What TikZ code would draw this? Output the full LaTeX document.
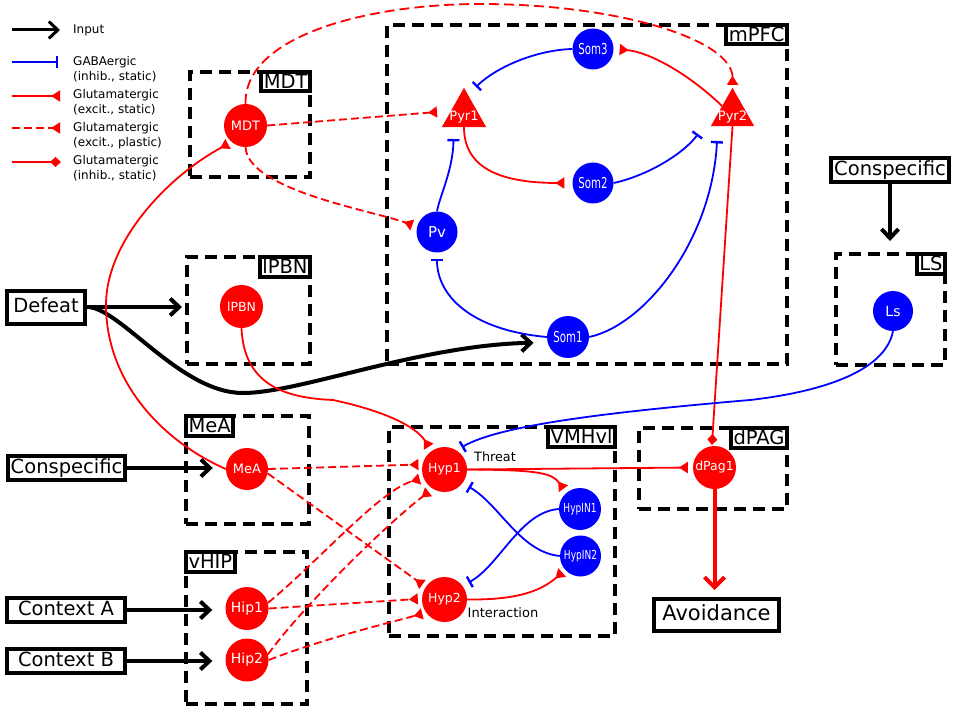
\documentclass[tikz,border=0pt]{standalone}
\usepackage{fontspec}
\setmainfont{DejaVu Sans}
\usepackage{graphicx}
\usetikzlibrary{arrows.meta}
\pgfdeclarelayer{back}\pgfdeclarelayer{mid}\pgfsetlayers{back,mid,main}
\definecolor{nred}{RGB}{255,0,0}
\definecolor{nblue}{RGB}{0,0,255}
\begin{document}
\begin{tikzpicture}[x=1pt,y=-1pt,
 region/.style={draw, line width=4pt, dash pattern=on 12pt off 7pt, inner sep=0pt},
 lbl/.style={draw, line width=4pt, fill=white, font=\fontsize{19.5}{22}\selectfont, inner xsep=2.5pt, inner ysep=2pt, text height=14.5pt, text depth=1pt},
 inbox/.style={draw, line width=4pt, fill=white, font=\fontsize{19.5}{22}\selectfont, inner xsep=3pt, inner ysep=3pt, text height=14.5pt, text depth=3.5pt},
 rn/.style={circle, fill=nred, text=white, inner sep=0pt, minimum size=#1},
 bn/.style={circle, fill=nblue, text=white, inner sep=0pt, minimum size=#1},
 exc/.style={nred, line width=1.8pt, -{Triangle[reversed, length=9pt, width=11pt]}},
 pla/.style={exc, dash pattern=on 8pt off 4pt},
 inh/.style={nblue, line width=1.8pt, -{Bar[width=12pt, line width=2.4pt]}},
 dia/.style={nred, line width=1.8pt, -{Diamond[length=11pt, width=10pt]}},
 inp/.style={black, line width=4pt, -{Straight Barb[length=9pt, width=17pt]}},
 legt/.style={anchor=west, align=left, font=\fontsize{12}{15}\selectfont, inner sep=0pt},
]
\useasboundingbox (0,0) rectangle (957,711);

% ---------------- regions ----------------
\begin{pgfonlayer}{back}
\node[region, minimum width=120pt, minimum height=105pt] (mdtbox) at (250,124.5) {};
\node[region, minimum width=400pt, minimum height=339pt] (mpfcbox) at (587,194.5) {};
\node[region, minimum width=123pt, minimum height=107pt] (lpbnbox) at (248.5,310.5) {};
\node[region, minimum width=123pt, minimum height=108pt] (meabox) at (247.5,470) {};
\node[region, minimum width=121pt, minimum height=152pt] (vhipbox) at (246.5,628) {};
\node[region, minimum width=226pt, minimum height=209pt] (vmhbox) at (502,531.5) {};
\node[region, minimum width=148pt, minimum height=81pt] (dpagbox) at (713,468.5) {};
\node[region, minimum width=109pt, minimum height=111pt] (lsbox) at (890.5,309.5) {};
\node[lbl, anchor=north east] (mdtlbl) at (mdtbox.north east) {MDT};
\node[lbl, anchor=north east] (mpfclbl) at (mpfcbox.north east) {mPFC};
\node[lbl, anchor=north east] (lpbnlbl) at (lpbnbox.north east) {lPBN};
\node[lbl, anchor=north west] (mealbl) at (meabox.north west) {MeA};
\node[lbl, anchor=north west] (vhiplbl) at (vhipbox.north west) {vHIP};
\node[lbl, anchor=north east] (vmhlbl) at (vmhbox.north east) {VMHvl};
\node[lbl, anchor=north east] (dpaglbl) at (dpagbox.north east) {dPAG};
\node[lbl, anchor=north east] (lslbl) at (lsbox.north east) {LS};
\end{pgfonlayer}

% ---------------- input boxes ----------------
\node[inbox, minimum width=78pt, minimum height=33pt] (defeat) at (46,307) {Defeat};
\node[inbox] (conspL) at (66.5,468) {Conspecific};
\node[inbox, minimum width=118pt] (ctxA) at (66,610) {Context A};
\node[inbox, minimum width=118pt] (ctxB) at (66,661) {Context B};
\node[inbox] (conspR) at (890,170) {Conspecific};
\node[inbox, minimum width=125pt, minimum height=32pt, font=\fontsize{21}{24}\selectfont] (avoid) at (716.5,615) {Avoidance};

% ---------------- neurons ----------------
\node[rn=43pt, font=\fontsize{13}{13}\selectfont] (mdt) at (245.5,125.5) {MDT};
\node[rn=43pt, font=\fontsize{12.5}{13}\selectfont] (lpbn) at (241.5,306.5) {lPBN};
\node[rn=42pt, font=\fontsize{13}{13}\selectfont] (mea) at (247,469) {MeA};
\node[rn=43pt, font=\fontsize{14}{14}\selectfont] (hip1) at (247,608.5) {Hip1};
\node[rn=43pt, font=\fontsize{14}{14}\selectfont] (hip2) at (247,660) {Hip2};
\node[rn=45pt, font=\fontsize{12.5}{13}\selectfont] (hyp1) at (444.5,469.5) {Hyp1};
\node[rn=45pt, font=\fontsize{12.5}{13}\selectfont] (hyp2) at (444.5,599.5) {Hyp2};
\node[rn=43pt, font=\fontsize{12.5}{13}\selectfont] (dpag1) at (714.5,467.5) {dPag1};
\node[bn=41pt] (som3) at (593,49) {\fontsize{15}{15}\selectfont\scalebox{0.68}[1]{Som3}};
\node[bn=41pt] (som2) at (593,183) {\fontsize{15}{15}\selectfont\scalebox{0.68}[1]{Som2}};
\node[bn=42pt] (som1) at (568,337) {\fontsize{15}{15}\selectfont\scalebox{0.68}[1]{Som1}};
\node[bn=41pt, font=\fontsize{15}{15}\selectfont] (pv) at (437,232) {Pv};
\node[bn=42pt] (hypin1) at (580,509) {\fontsize{12.4}{13}\selectfont\scalebox{0.73}[1]{HypIN1}};
\node[bn=41pt] (hypin2) at (580.5,556) {\fontsize{12.4}{13}\selectfont\scalebox{0.73}[1]{HypIN2}};
\node[bn=40pt, font=\fontsize{14}{14}\selectfont] (ls) at (893,311) {Ls};
% pyramidal cells
\node[minimum width=44pt, minimum height=39pt, inner sep=0pt] (pyr1) at (464,107.5) {};
\fill[nred] (pyr1.north) -- (pyr1.south east) -- (pyr1.south west) -- cycle;
\node[text=white, font=\fontsize{13}{13}\selectfont] (pyr1t) at (464,117.5) {Pyr1};
\node[minimum width=43pt, minimum height=38pt, inner sep=0pt] (pyr2) at (732.5,107) {};
\fill[nred] (pyr2.north) -- (pyr2.south east) -- (pyr2.south west) -- cycle;
\node[text=white, font=\fontsize{13}{13}\selectfont] (pyr2t) at (732.5,117.5) {Pyr2};

% annotations
\node[font=\fontsize{12.8}{13}\selectfont] (threat) at (495,457) {Threat};
\node[font=\fontsize{13}{13}\selectfont] (interact) at (503,613) {Interaction};

% synapse points on pyramidal cells
\coordinate (p1som3) at (476,87);
\coordinate (p1pv) at (453.5,139);
\coordinate (p1mdt) at (437,112);
\coordinate (p2l) at (722,106);
\coordinate (p2som2) at (698,134);
\coordinate (p2som1) at (717,141);

% ---------------- legend ----------------
\coordinate (l1a) at (12,30); \coordinate (l1b) at (60,30);
\coordinate (l2a) at (12,62); \coordinate (l2b) at (58,62);
\coordinate (l3a) at (12,96); \coordinate (l3b) at (60,96);
\coordinate (l4a) at (12,128); \coordinate (l4b) at (60,128);
\coordinate (l5a) at (12,162); \coordinate (l5b) at (61,162);
\draw[inp, line width=3pt] (l1a) -- (l1b);
\draw[inh] (l2a) -- (l2b);
\draw[exc] (l3a) -- (l3b);
\draw[pla] (l4a) -- (l4b);
\draw[dia] (l5a) -- (l5b);
\node[legt] (t1) at (73,30) {Input};
\node[legt] (t2) at (73,69.5) {GABAergic\\(inhib., static)};
\node[legt] (t3) at (73,102.5) {Glutamatergic\\(excit., static)};
\node[legt] (t4) at (73,135.5) {Glutamatergic\\(excit., plastic)};
\node[legt] (t5) at (73,168.5) {Glutamatergic\\(inhib., static)};

% ---------------- connectors ----------------
\begin{pgfonlayer}{mid}
% inputs
\draw[inp, shorten >=3pt] (defeat.east) -- (defeat.east -| lpbnbox.west);
\draw[inp, shorten >=14pt] (defeat.east) .. controls (120,307) and (180,393) .. (243,393) .. controls (300,393) and (420,345) .. (som1.195);
\draw[inp, shorten >=13pt] (conspL.east) -- (conspL.east -| mea.west);
\draw[inp, shorten >=13pt] (ctxA.east) -- (ctxA.east -| hip1.west);
\draw[inp, shorten >=13pt] (ctxB.east) -- (ctxB.east -| hip2.west);
\draw[inp, shorten >=11pt] (conspR.south) -- (conspR.south |- lsbox.north);
\draw[nred, line width=4pt, -{Straight Barb[length=10pt, width=20pt]}, shorten >=7pt] (dpag1.south) -- (dpag1.south |- avoid.north);

% MDT
\draw[exc, shorten >=4pt] (mea.west) .. controls (160,440) and (106,380) .. (106,305) .. controls (106,240) and (170,175) .. (mdt.-130);
\draw[pla] (mdt.east) -- (p1mdt);
\draw[pla, shorten >=5pt] (mdt.south) .. controls (248,190) and (370,210) .. (pv.165);
\draw[pla, dash pattern=on 10pt off 5pt, shorten >=3pt] (mdt.north) .. controls (244,35) and (370,4) .. (480,4) .. controls (620,4) and (733,40) .. (pyr2.north);

% mPFC
\draw[inh] (som3.west) .. controls (535,50) and (495,68) .. (p1som3);
\draw[exc, shorten >=6pt] (p2l) .. controls (690,75) and (650,52) .. (som3.east);
\draw[exc, shorten >=8pt] (pyr1.south) .. controls (464,165) and (495,183) .. (som2.west);
\draw[inh] (som2.east) .. controls (650,175) and (685,152) .. (p2som2);
\draw[inh] (pv.north) .. controls (440,195) and (453,170) .. (p1pv);
\draw[inh, shorten >=6pt] (som1.west) .. controls (470,330) and (437,295) .. (pv.south);
\draw[inh] (som1.east) .. controls (645,325) and (712,240) .. (p2som1);
\draw[dia, shorten >=1pt] (pyr2.south) -- (dpag1.97);

% lPBN, MeA, vHIP -> VMHvl
\draw[exc, shorten >=5pt] (lpbn.south) .. controls (244,385) and (285,398) .. (333,400) .. controls (380,410) and (415,425) .. (hyp1.125);
\draw[pla, shorten >=4pt] (mea.east) -- (hyp1.167);
\draw[pla, shorten >=4pt] (mea.-12) -- (hyp2.146);
\draw[pla, shorten >=4pt] (hip1.15) .. controls (320,560) and (380,490) .. (hyp1.202);
\draw[pla, shorten >=5pt] (hip2.15) .. controls (300,610) and (380,530) .. (hyp1.238);
\draw[pla, shorten >=4pt] (hip1.east) -- (hyp2.178);
\draw[pla, shorten >=4pt] (hip2.east) .. controls (320,640) and (380,625) .. (hyp2.216);

% VMHvl
\draw[exc, shorten >=5pt] (hyp1.east) -- (dpag1.west);
\draw[exc, shorten >=5pt] (hyp1.east) .. controls (540,470) and (552,473) .. (hypin1.130);
\draw[exc, shorten >=4pt] (hyp2.east) .. controls (515,600) and (540,592) .. (hypin2.222);
\draw[inh, shorten >=7pt] (hypin1.west) .. controls (520,512) and (500,565) .. (hyp2.37);
\draw[inh, shorten >=7pt] (hypin2.west) .. controls (520,552) and (500,505) .. (hyp1.-37);
\draw[inh, shorten >=6pt] (ls.south) .. controls (885,372) and (820,392) .. (750,400) .. controls (610,412) and (500,425) .. (hyp1.58);
\end{pgfonlayer}
\end{tikzpicture}
\end{document}
